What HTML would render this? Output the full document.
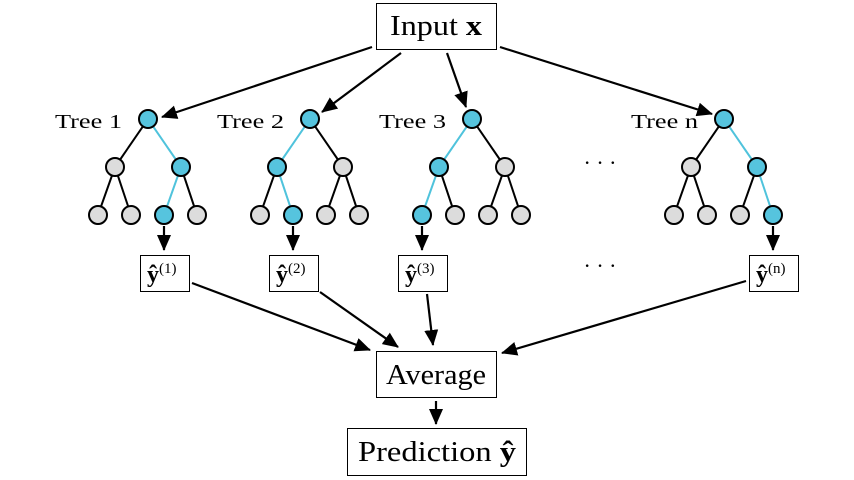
<!DOCTYPE html>
<html><head><meta charset="utf-8"><style>
html,body{margin:0;padding:0;background:#fff;}
svg{display:block;font-family:"Liberation Serif",serif;}
</style></head><body>
<svg width="854" height="480" viewBox="0 0 854 480">
<defs>
<marker id="ahb" markerWidth="16" markerHeight="14" refX="15" refY="7" orient="auto" markerUnits="userSpaceOnUse">
<path d="M0,0 L16,7 L0,14 Z" fill="#000"/>
</marker>
</defs>

<g>
<rect x="376.5" y="3.5" width="120" height="46" fill="#fff" stroke="#000" stroke-width="1"/>
<text x="436" y="35" font-size="28" text-anchor="middle" textLength="92" lengthAdjust="spacingAndGlyphs">Input <tspan font-weight="bold">x</tspan></text>
</g>

<g stroke="#000" stroke-width="2.2" fill="none">
<line x1="372" y1="47" x2="162" y2="117" marker-end="url(#ahb)"/>
<line x1="401" y1="53" x2="322" y2="112" marker-end="url(#ahb)"/>
<line x1="447" y1="53" x2="466" y2="107" marker-end="url(#ahb)"/>
<line x1="500" y1="47" x2="712" y2="114" marker-end="url(#ahb)"/>
</g>

<g id="trees"></g>

<text x="600" y="170" font-size="22" text-anchor="middle">· · ·</text>
<text x="600" y="273" font-size="22" text-anchor="middle">· · ·</text>

<g stroke="#000" stroke-width="2.2" fill="none">
<line x1="192" y1="283" x2="370" y2="350" marker-end="url(#ahb)"/>
<line x1="320" y1="292" x2="398" y2="347" marker-end="url(#ahb)"/>
<line x1="427" y1="294" x2="433" y2="345" marker-end="url(#ahb)"/>
<line x1="746" y1="281" x2="502" y2="353" marker-end="url(#ahb)"/>
<line x1="436" y1="401" x2="436" y2="424" marker-end="url(#ahb)"/>
</g>

<g>
<rect x="376.5" y="351.5" width="120" height="46" fill="#fff" stroke="#000" stroke-width="1"/>
<text x="436" y="384" font-size="28" text-anchor="middle" textLength="100" lengthAdjust="spacingAndGlyphs">Average</text>
</g>
<g>
<rect x="347.5" y="428.5" width="179" height="47" fill="#fff" stroke="#000" stroke-width="1"/>
<text x="437" y="461" font-size="28" text-anchor="middle" textLength="158" lengthAdjust="spacingAndGlyphs">Prediction <tspan font-weight="bold">ŷ</tspan></text>
</g>

<script>
const treeNames = ["Tree 1","Tree 2","Tree 3","Tree n"];
const treeRootX = [148,310,472,724];
const treePaths = [[1,0],[0,1],[0,0],[1,1]];
const outputSup = ["(1)","(2)","(3)","(n)"];
const NS="http://www.w3.org/2000/svg";
const g=document.getElementById('trees');
function el(t,a,p){const e=document.createElementNS(NS,t);for(const k in a)e.setAttribute(k,a[k]);(p||g).appendChild(e);return e;}
treeNames.forEach((name,i)=>{
  const rx=treeRootX[i], path=treePaths[i];
  const tg=el('g',{});
  
  
  const lbl=el('text',{x:rx-93,y:128,'font-size':20,textLength:67,lengthAdjust:'spacingAndGlyphs'},tg);lbl.textContent=name;
  
  
  const y0=119,y1=167,y2=215;
  const mids=[rx-33,rx+33];
  const leaves=[rx-50,rx-17,rx+16,rx+49];
  const edges=[];
  mids.forEach((mx,m)=>{
    edges.push([rx,y0,mx,y1,path[0]===m]);
    [0,1].forEach(l=>edges.push([mx,y1,leaves[m*2+l],y2,path[0]===m&&path[1]===l]));
  });
  edges.forEach(e=>el('line',{x1:e[0],y1:e[1],x2:e[2],y2:e[3],stroke:e[4]?'#4fc3dc':'#000','stroke-width':2},tg));
  const blue='#56c4de',grey='#dcdcdc';
  el('circle',{cx:rx,cy:y0,r:9,fill:blue,stroke:'#000','stroke-width':2},tg);
  mids.forEach((mx,m)=>el('circle',{cx:mx,cy:y1,r:9,fill:path[0]===m?blue:grey,stroke:'#000','stroke-width':2},tg));
  leaves.forEach((lx,k)=>el('circle',{cx:lx,cy:y2,r:9,fill:(k===path[0]*2+path[1])?blue:grey,stroke:'#000','stroke-width':2},tg));
  const lx=leaves[path[0]*2+path[1]];
  el('line',{x1:lx,y1:226,x2:lx,y2:250,stroke:'#000','stroke-width':2.2,'marker-end':'url(#ahb)'},tg);
  const b=el('g',{},tg);
  
  
  el('rect',{x:lx-23.5,y:255.5,width:49,height:36,fill:'#fff',stroke:'#000','stroke-width':1},b);
  const t=el('text',{x:lx-17,y:282,'font-size':24},b);
  const s1=el('tspan',{'font-weight':'bold'},t);s1.textContent='ŷ';
  const s2=el('tspan',{dy:-9,'font-size':15},t);s2.textContent=outputSup[i];
});
</script>
</svg>
</body></html>
